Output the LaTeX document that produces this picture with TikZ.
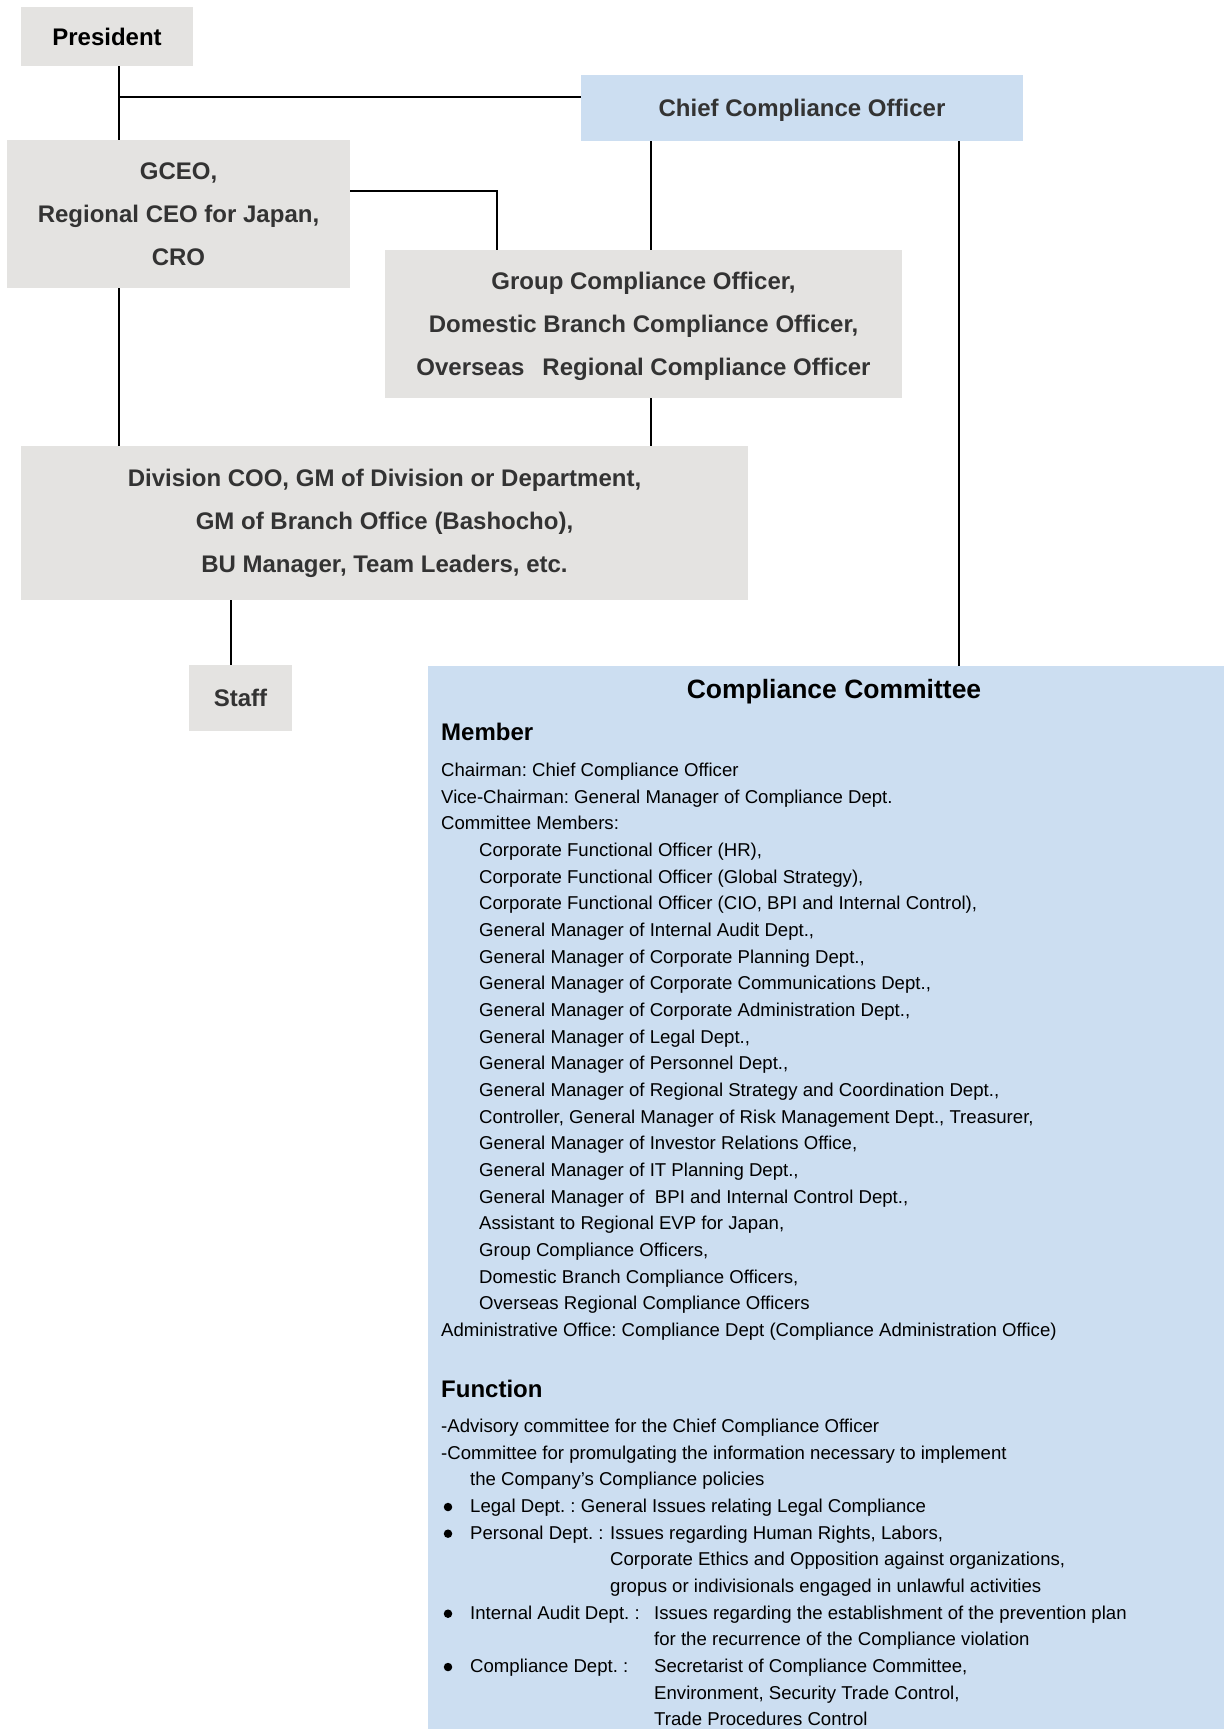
\documentclass[tikz,border=0pt]{standalone}
\usepackage{fontspec}
\setmainfont{Liberation Sans}
\definecolor{boxgray}{RGB}{228,227,225}
\definecolor{boxblue}{RGB}{204,222,241}
\definecolor{orgtext}{RGB}{51,51,51}
\tikzset{
  orgbox/.style={fill=boxgray, draw=none, inner sep=0pt, align=center, text=orgtext,
    font=\bfseries\fontsize{24}{43}\selectfont},
  bluebox/.style={orgbox, fill=boxblue},
  conn/.style={draw=black, line width=2.7pt},
  ctext/.style={anchor=base west, inner sep=0pt, text=black, font=\frenchspacing\fontsize{18.6}{22}\selectfont},
  chead/.style={anchor=base west, inner sep=0pt, text=black, font=\bfseries\fontsize{24}{28}\selectfont},
  bulletdot/.style={circle, fill=black, inner sep=0pt, minimum size=8.5pt}
}
\begin{document}
\begin{tikzpicture}[x=1pt,y=-1pt]
\useasboundingbox (0,0) rectangle (1224,1729);
\fill[white] (0,0) rectangle (1224,1729);

% boxes
\node[orgbox, text=black, minimum width=172pt, minimum height=59pt] (pres) at (107,36.5) {President};
\node[bluebox, text depth=0pt, minimum width=442pt, minimum height=66pt] (cco) at (802,108) {Chief Compliance Officer};
\node[orgbox, minimum width=343pt, minimum height=148pt] (gceo) at (178.5,214) {GCEO,\\Regional CEO for Japan,\\CRO};
\node[orgbox, text depth=0pt, minimum width=517pt, minimum height=148pt] (gco) at (643.5,324)
  {Group Compliance Officer,\\Domestic Branch Compliance Officer,\\Overseas\hspace{18pt}Regional Compliance Officer};
\node[orgbox, minimum width=727pt, minimum height=154pt] (div) at (384.5,523)
  {Division COO, GM of Division or Department,\\GM of Branch Office (Bashocho),\\BU Manager, Team Leaders, etc.};
\node[orgbox, minimum width=103pt, minimum height=66pt] (staff) at (240.5,698) {Staff};
\node[fill=boxblue, inner sep=0pt, minimum width=796pt, minimum height=1073pt] (comm) at (826,1202.5) {};

% junction coordinates
\coordinate (j1) at (119,97);
\coordinate (cx) at (651,0);
\coordinate (gx) at (497,191);
\coordinate (sx) at (231,0);
\coordinate (rx) at (959,0);

% connectors
\draw[conn] (pres.south -| j1) -- (gceo.north -| j1);
\draw[conn] (j1) -- (j1 -| cco.west);
\draw[conn] (gx -| gceo.east) -- (gx) -- (gco.north -| gx);
\draw[conn] (cco.south -| cx) -- (gco.north -| cx);
\draw[conn] (gceo.south -| j1) -- (div.north -| j1);
\draw[conn] (gco.south -| cx) -- (div.north -| cx);
\draw[conn] (div.south -| sx) -- (staff.north -| sx);
\draw[conn] (cco.south -| rx) -- (comm.north -| rx);

% committee text
\node[anchor=base, inner sep=0pt, font=\bfseries\fontsize{26.5}{30}\selectfont] (ctitle) at (834,698) {Compliance Committee};
\node[chead] (hmember) at (441,740) {Member};

\foreach \t [count=\i from 0] in {{Chairman: Chief Compliance Officer},
  {Vice-Chairman: General Manager of Compliance Dept.},
  {Committee Members:}}
  \node[ctext] (m\i) at (441,{776.5+26.67*\i}) {\t};

\foreach \t [count=\i from 3] in {{Corporate Functional Officer (HR),},
  {Corporate Functional Officer (Global Strategy),},
  {Corporate Functional Officer (CIO, BPI and Internal Control),},
  {General Manager of Internal Audit Dept.,},
  {General Manager of Corporate Planning Dept.,},
  {General Manager of Corporate Communications Dept.,},
  {General Manager of Corporate Administration Dept.,},
  {General Manager of Legal Dept.,},
  {General Manager of Personnel Dept.,},
  {General Manager of Regional Strategy and Coordination Dept.,},
  {Controller, General Manager of Risk Management Dept., Treasurer,},
  {General Manager of Investor Relations Office,},
  {General Manager of IT Planning Dept.,},
  {General Manager of~ BPI and Internal Control Dept.,},
  {Assistant to Regional EVP for Japan,},
  {Group Compliance Officers,},
  {Domestic Branch Compliance Officers,},
  {Overseas Regional Compliance Officers}}
  \node[ctext] (m\i) at (479,{776.5+26.67*\i}) {\t};

\node[ctext] (m21) at (441,{776.5+26.67*21}) {Administrative Office: Compliance Dept (Compliance Administration Office)};

\node[chead] (hfunc) at (441,1397) {Function};

\node[ctext] (f0) at (441,1432.5) {-Advisory committee for the Chief Compliance Officer};
\node[ctext] (f1) at (441,{1432.5+26.67}) {-Committee for promulgating the information necessary to implement};
\node[ctext] (f2) at (470,{1432.5+26.67*2}) {the Company’s Compliance policies};

\node[bulletdot] (b3) at (448,{1432.5+26.67*3-5.5}) {};
\node[ctext] (f3) at (470,{1432.5+26.67*3}) {Legal Dept. : General Issues relating Legal Compliance};

\node[bulletdot] (b4) at (448,{1432.5+26.67*4-5.5}) {};
\node[ctext] (f4) at (470,{1432.5+26.67*4}) {Personal Dept. :};
\node[ctext] (g4) at (610,{1432.5+26.67*4}) {Issues regarding Human Rights, Labors,};
\node[ctext] (g5) at (610,{1432.5+26.67*5}) {Corporate Ethics and Opposition against organizations,};
\node[ctext] (g6) at (610,{1432.5+26.67*6}) {gropus or indivisionals engaged in unlawful activities};

\node[bulletdot] (b7) at (448,{1432.5+26.67*7-5.5}) {};
\node[ctext] (f7) at (470,{1432.5+26.67*7}) {Internal Audit Dept. :};
\node[ctext] (g7) at (654,{1432.5+26.67*7}) {Issues regarding the establishment of the prevention plan};
\node[ctext] (g8) at (654,{1432.5+26.67*8}) {for the recurrence of the Compliance violation};

\node[bulletdot] (b9) at (448,{1432.5+26.67*9-5.5}) {};
\node[ctext] (f9) at (470,{1432.5+26.67*9}) {Compliance Dept. :};
\node[ctext] (g9) at (654,{1432.5+26.67*9}) {Secretarist of Compliance Committee,};
\node[ctext] (g10) at (654,{1432.5+26.67*10}) {Environment, Security Trade Control,};
\node[ctext] (g11) at (654,{1432.5+26.67*11}) {Trade Procedures Control};
\end{tikzpicture}
\end{document}
